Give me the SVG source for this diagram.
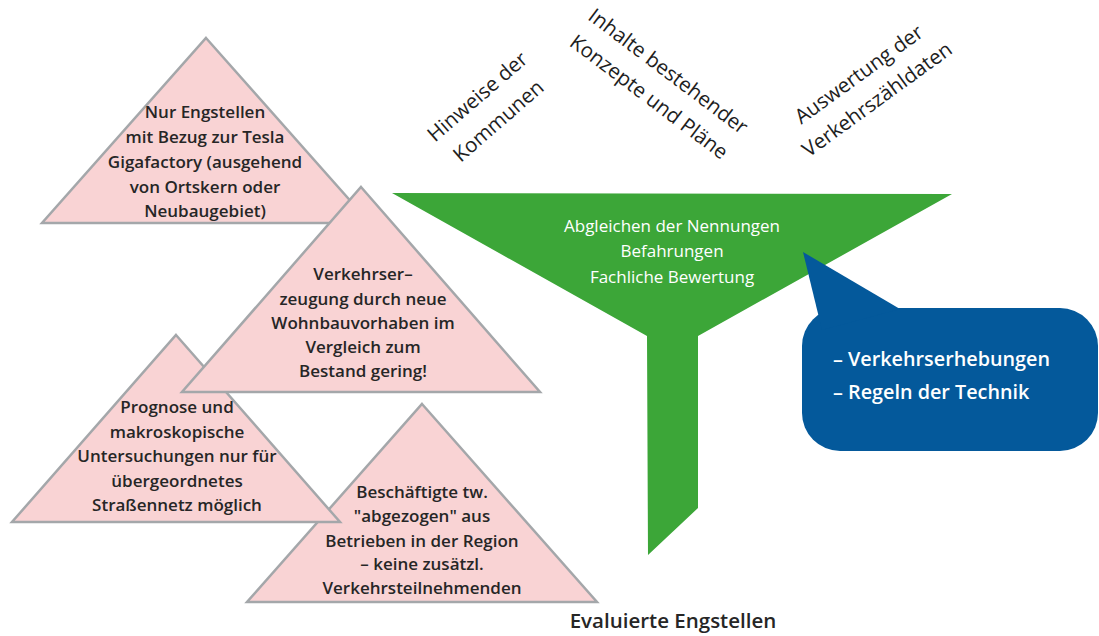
<svg xmlns="http://www.w3.org/2000/svg" width="1099" height="636" viewBox="0 0 1099 636">
<style>
.tri{fill:#f9d3d4;stroke:#a4a7aa;stroke-width:2.5;stroke-linejoin:miter}
.tt{font-family:"Open Sans","Noto Sans","Liberation Sans",sans-serif;font-weight:600;font-size:17px;fill:#262626;text-anchor:middle}
.rot{font-family:"Open Sans","Noto Sans","Liberation Sans",sans-serif;font-weight:400;font-size:20.5px;fill:#1e1e1e;text-anchor:middle}
.ft{font-family:"Open Sans","Noto Sans","Liberation Sans",sans-serif;font-weight:500;font-size:17px;fill:#ffffff;text-anchor:middle}
.bt{font-family:"Open Sans","Noto Sans","Liberation Sans",sans-serif;font-weight:600;font-size:19.8px;fill:#ffffff}
.lbl{font-family:"Open Sans","Noto Sans","Liberation Sans",sans-serif;font-weight:600;font-size:20.5px;fill:#262626;text-anchor:middle}
</style>
<rect width="1099" height="636" fill="#ffffff"/>
<g id="connectors"/>
<g id="funnel">
<path d="M392,193 L952,194 L698,336 L698,508 L648,555 L647,336 Z" fill="#3ca638"/>
<text class="ft" x="672" y="232">Abgleichen der Nennungen</text>
<text class="ft" x="672" y="257">Befahrungen</text>
<text class="ft" x="672" y="283">Fachliche Bewertung</text>
</g>
<g id="callout">
<rect x="802" y="308" width="296" height="143" rx="38" ry="38" fill="#04599b"/>
<polygon points="803,252 900,309 822,330" fill="#04599b"/>
<text class="bt" x="833" y="366">– Verkehrserhebungen</text>
<text class="bt" x="833" y="399">– Regeln der Technik</text>
</g>
<g id="tri4">
<polygon class="tri" points="422,404 597,602 247,602"/>
<text class="tt" x="422" y="498">Beschäftigte tw.</text>
<text class="tt" x="422" y="522">"abgezogen" aus</text>
<text class="tt" x="422" y="547">Betrieben in der Region</text>
<text class="tt" x="422" y="570">– keine zusätzl.</text>
<text class="tt" x="422" y="594">Verkehrsteilnehmenden</text>
</g>
<g id="tri1">
<polygon class="tri" points="206,38 370,223 42,223"/>
<text class="tt" x="205" y="118">Nur Engstellen</text>
<text class="tt" x="205" y="143">mit Bezug zur Tesla</text>
<text class="tt" x="205" y="168">Gigafactory (ausgehend</text>
<text class="tt" x="205" y="193">von Ortskern oder</text>
<text class="tt" x="205" y="217">Neubaugebiet)</text>
</g>
<g id="tri3">
<polygon class="tri" points="176,335 340,522 12,522"/>
<text class="tt" x="177" y="413">Prognose und</text>
<text class="tt" x="177" y="438">makroskopische</text>
<text class="tt" x="177" y="462">Untersuchungen nur für</text>
<text class="tt" x="177" y="487">übergeordnetes</text>
<text class="tt" x="177" y="511">Straßennetz möglich</text>
</g>
<g id="tri2">
<polygon class="tri" points="361,187 540,392 182,392"/>
<text class="tt" x="363" y="280">Verkehrser–</text>
<text class="tt" x="363" y="305">zeugung durch neue</text>
<text class="tt" x="363" y="329">Wohnbauvorhaben im</text>
<text class="tt" x="363" y="353">Vergleich zum</text>
<text class="tt" x="363" y="377">Bestand gering!</text>
</g>
<g id="label-hinweise" transform="translate(482,102) rotate(-41)">
<text class="rot" x="0" y="0">Hinweise der</text>
<text class="rot" x="0" y="32">Kommunen</text>
</g>
<g id="label-inhalte" transform="translate(664,77) rotate(37)">
<text class="rot" x="0" y="0">Inhalte bestehender</text>
<text class="rot" x="0" y="32">Konzepte und Pläne</text>
</g>
<g id="label-auswertung" transform="translate(863,80) rotate(-36)">
<text class="rot" x="0" y="0">Auswertung der</text>
<text class="rot" x="0" y="31">Verkehrszähldaten</text>
</g>
<g id="output">
<text class="lbl" x="673" y="628">Evaluierte Engstellen</text>
</g>
</svg>
